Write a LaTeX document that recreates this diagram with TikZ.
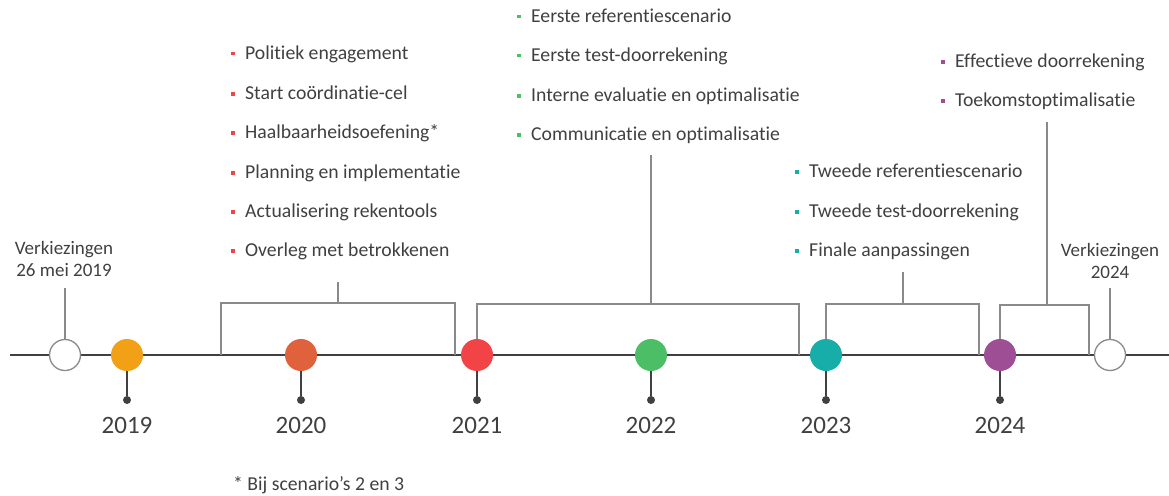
\documentclass[tikz,border=0pt]{standalone}
\usepackage{fontspec}
\setmainfont[Ligatures={NoCommon}]{Carlito}
\definecolor{txt}{HTML}{404040}
\definecolor{axis}{HTML}{404040}
\definecolor{brk}{HTML}{8A8A8A}
\definecolor{cA}{HTML}{F2A016}
\definecolor{cB}{HTML}{E0623C}
\definecolor{cC}{HTML}{F24446}
\definecolor{cD}{HTML}{4CBF66}
\definecolor{cE}{HTML}{17ADA8}
\definecolor{cF}{HTML}{9E4E94}
\newcommand{\itm}[2]{\textcolor{#1}{\rule[4pt]{3.5pt}{3.5pt}}\hspace{10.5pt}#2}
\begin{document}
\begin{tikzpicture}[x=1pt,y=-1pt,
  dotc/.style={circle,inner sep=0,minimum size=32pt,draw=none},
  whitec/.style={circle,inner sep=0,minimum size=31pt,draw=brk,line width=1.3pt,fill=white},
  tip/.style={circle,inner sep=0,minimum size=8pt,fill=axis},
  yearlbl/.style={font=\fontsize{25}{29}\selectfont,text=txt,inner sep=0},
  itemlbl/.style={anchor=west,inner sep=0,text height=13pt,text depth=4pt,font=\fontsize{19.7}{22}\selectfont,text=txt},
  notelbl/.style={align=center,inner sep=0,font=\fontsize{19}{22}\selectfont,text=txt},
  brline/.style={draw=brk,line width=1.2pt},
  stem/.style={draw=axis,line width=1.2pt}]
\useasboundingbox (0,0) rectangle (1169,495);
% main axis
\coordinate (axL) at (10,355);
\coordinate (axR) at (1169,355);
\draw[axis,line width=1.4pt] (axL) -- (axR);
% brackets (drawn before circles)
\coordinate (b1l) at (221,355); \coordinate (b1lt) at (221,303);
\coordinate (b1r) at (455,355); \coordinate (b1rt) at (455,303);
\coordinate (b1m) at (338,303); \coordinate (b1mt) at (338,282);
\draw[brline] (b1l) -- (b1lt) -- (b1rt) -- (b1r);
\draw[brline] (b1m) -- (b1mt);
\coordinate (b2l) at (477,355); \coordinate (b2lt) at (477,304);
\coordinate (b2r) at (799,355); \coordinate (b2rt) at (799,304);
\coordinate (b2m) at (651,304); \coordinate (b2mt) at (651,155);
\draw[brline] (b2l) -- (b2lt) -- (b2rt) -- (b2r);
\draw[brline] (b2m) -- (b2mt);
\coordinate (b3l) at (826,355); \coordinate (b3lt) at (826,304);
\coordinate (b3r) at (979,355); \coordinate (b3rt) at (979,304);
\coordinate (b3m) at (903,304); \coordinate (b3mt) at (903,272);
\draw[brline] (b3l) -- (b3lt) -- (b3rt) -- (b3r);
\draw[brline] (b3m) -- (b3mt);
\coordinate (b4l) at (1000,355); \coordinate (b4lt) at (1000,305);
\coordinate (b4r) at (1089,355); \coordinate (b4rt) at (1089,305);
\coordinate (b4m) at (1047,305); \coordinate (b4mt) at (1047,122);
\draw[brline] (b4l) -- (b4lt) -- (b4rt) -- (b4r);
\draw[brline] (b4m) -- (b4mt);
% election markers
\node[whitec] (e1) at (65,355) {};
\node[whitec] (e2) at (1110,355) {};
\node[notelbl] (e1t) at (64,259) {Verkiezingen\\26 mei 2019};
\node[notelbl] (e2t) at (1110,261) {Verkiezingen\\2024};
\coordinate (e1s) at (65,288);
\coordinate (e2s) at (1110,288);
\draw[brline] (e1.north) -- (e1s);
\draw[brline] (e2.north) -- (e2s);
% year circles
\foreach \n/\x/\c/\y in {y19/127/cA/2019, y20/301/cB/2020, y21/477/cC/2021, y22/651/cD/2022, y23/826/cE/2023, y24/1000/cF/2024}{
  \node[dotc,fill=\c] (\n) at (\x,355) {};
  \node[tip] (\n d) at (\x,400) {};
  \draw[stem] (\n.south) -- (\n d);
  \node[yearlbl] (\n l) at (\x,425) {\y};
}
% 2020 list
\node[itemlbl] (r1) at (231,55) {\itm{cC}{Politiek engagement}};
\node[itemlbl] (r2) at (231,95) {\itm{cC}{Start coördinatie-cel}};
\node[itemlbl] (r3) at (231,134) {\itm{cC}{Haalbaarheidsoefening*}};
\node[itemlbl] (r4) at (231,174) {\itm{cC}{Planning en implementatie}};
\node[itemlbl] (r5) at (231,213) {\itm{cC}{Actualisering rekentools}};
\node[itemlbl] (r6) at (231,252) {\itm{cC}{Overleg met betrokkenen}};
% 2021-2022 list
\node[itemlbl] (g1) at (517,18) {\itm{cD}{Eerste referentiescenario}};
\node[itemlbl] (g2) at (517,57) {\itm{cD}{Eerste test-doorrekening}};
\node[itemlbl] (g3) at (517,97) {\itm{cD}{Interne evaluatie en optimalisatie}};
\node[itemlbl] (g4) at (517,136) {\itm{cD}{Communicatie en optimalisatie}};
% 2023 list
\node[itemlbl] (t1) at (795,173) {\itm{cE}{Tweede referentiescenario}};
\node[itemlbl] (t2) at (795,213) {\itm{cE}{Tweede test-doorrekening}};
\node[itemlbl] (t3) at (795,252) {\itm{cE}{Finale aanpassingen}};
% 2024 list
\node[itemlbl] (p1) at (941,63) {\itm{cF}{Effectieve doorrekening}};
\node[itemlbl] (p2) at (941,102) {\itm{cF}{Toekomstoptimalisatie}};
% footnote
\node[itemlbl] (fn) at (233,486) {* Bij scenario’s 2 en 3};
\end{tikzpicture}
\end{document}
